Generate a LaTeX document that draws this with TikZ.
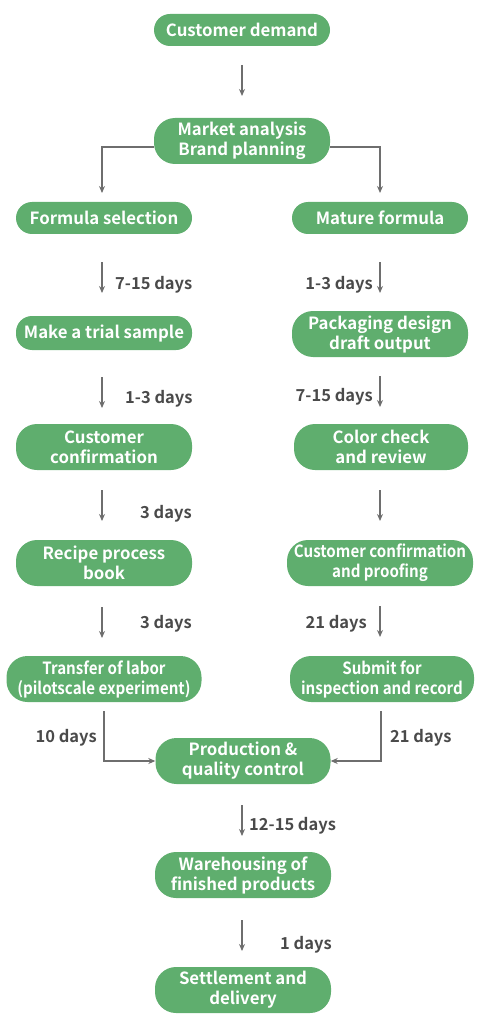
\documentclass[tikz,border=0pt]{standalone}
\usepackage{fontspec}
\setmainfont{Noto Sans CJK SC}[BoldFont={Noto Sans CJK SC Bold}]
\newfontfamily\condfont{Noto Sans CJK SC Bold}[FakeStretch=0.9]
\usetikzlibrary{arrows.meta}
\definecolor{boxgreen}{HTML}{5FAE6E}
\definecolor{linegrey}{HTML}{6E6E6E}
\definecolor{labgrey}{HTML}{4A4A4A}
\begin{document}
\begin{tikzpicture}[x=1pt,y=-1pt,
  pill/.style={fill=boxgreen, text=white, inner sep=0pt, align=center,
    font=\bfseries\fontsize{16.8}{20}\selectfont, minimum width=176pt, minimum height=32pt, rounded corners=16pt},
  tall/.style={minimum height=46pt, rounded corners=21pt},
  small/.style={font=\condfont\fontsize{16.8}{20}\selectfont},
  conn/.style={draw=linegrey, line width=1.4pt, -{Stealth[length=7pt,width=6pt]}},
  lab/.style={text=labgrey, font=\bfseries\fontsize{16.5}{18}\selectfont, inner sep=0pt}]
\useasboundingbox (0,0) rectangle (495,1024);
% nodes
\node[pill] (cd) at (242,30) {Customer demand};
\node[pill,tall] (ma) at (242,141) {Market analysis\\Brand planning};
\node[pill] (fs) at (104,218) {Formula selection};
\node[pill] (mf) at (380,218) {Mature formula};
\node[pill,minimum height=34pt] (ts) at (104,333) {Make a trial sample};
\node[pill,tall] (pd) at (380,334) {Packaging design\\draft output};
\node[pill,tall] (cc) at (104,447) {Customer\\confirmation};
\node[pill,tall,minimum width=174pt] (cr) at (381,447) {Color check\\and review};
\node[pill,tall] (rp) at (104,563) {Recipe process\\book};
\node[pill,tall,small,minimum width=186pt] (cp) at (380,563) {Customer confirmation\\and proofing};
\node[pill,tall,small,minimum width=195pt] (tl) at (104,679) {Transfer of labor\\(pilotscale experiment)};
\node[pill,tall,small,minimum width=184pt] (si) at (382,679) {Submit for\\inspection and record};
\node[pill,tall,minimum width=175pt] (pq) at (243,761) {Production \&\\quality control};
\node[pill,tall] (wh) at (243,875) {Warehousing of\\finished products};
\node[pill,tall] (sd) at (243,990) {Settlement and\\delivery};
% coordinates for arrows
\coordinate (a1s) at (242,65); \coordinate (a1e) at (242,96);
\draw[conn] (a1s) -- (a1e);
\coordinate (mlt) at (102,147); \coordinate (mle) at (102,193);
\coordinate (mrt) at (380,147); \coordinate (mre) at (380,193);
\draw[conn] (ma.west |- mlt) -- (mlt) -- (mle);
\draw[conn] (ma.east |- mrt) -- (mrt) -- (mre);
% left column
\coordinate (l1s) at (102,262); \coordinate (l1e) at (102,293);
\draw[conn] (l1s) -- (l1e);
\node[lab,anchor=west] (l1l) at (115,285) {7-15 days};
\coordinate (l2s) at (102,377); \coordinate (l2e) at (102,408);
\draw[conn] (l2s) -- (l2e);
\node[lab,anchor=west] (l2l) at (125,399) {1-3 days};
\coordinate (l3s) at (102,490); \coordinate (l3e) at (102,521);
\draw[conn] (l3s) -- (l3e);
\node[lab,anchor=west] (l3l) at (140,514) {3 days};
\coordinate (l4s) at (102,607); \coordinate (l4e) at (102,638);
\draw[conn] (l4s) -- (l4e);
\node[lab,anchor=west] (l4l) at (140,624) {3 days};
% right column
\coordinate (r1s) at (380,262); \coordinate (r1e) at (380,293);
\draw[conn] (r1s) -- (r1e);
\node[lab,anchor=east] (r1l) at (373,285) {1-3 days};
\coordinate (r2s) at (380,376); \coordinate (r2e) at (380,407);
\draw[conn] (r2s) -- (r2e);
\node[lab,anchor=east] (r2l) at (373,397) {7-15 days};
\coordinate (r3s) at (380,490); \coordinate (r3e) at (380,521);
\draw[conn] (r3s) -- (r3e);
\coordinate (r4s) at (380,606); \coordinate (r4e) at (380,637);
\draw[conn] (r4s) -- (r4e);
\node[lab,anchor=east] (r4l) at (367,624) {21 days};
% merge into production
\coordinate (jl) at (104,711); \coordinate (jlc) at (104,761);
\draw[conn] (jl) -- (jlc) -- (pq.west);
\node[lab,anchor=east] (jll) at (97,738) {10 days};
\coordinate (jr) at (381,711); \coordinate (jrc) at (381,761);
\draw[conn] (jr) -- (jrc) -- (pq.east);
\node[lab,anchor=west] (jrl) at (390,738) {21 days};
% bottom
\coordinate (b1s) at (242,805); \coordinate (b1e) at (242,836);
\draw[conn] (b1s) -- (b1e);
\node[lab,anchor=west] (b1l) at (249,826) {12-15 days};
\coordinate (b2s) at (242,920); \coordinate (b2e) at (242,951);
\draw[conn] (b2s) -- (b2e);
\node[lab,anchor=west] (b2l) at (280,945) {1 days};
\end{tikzpicture}
\end{document}
